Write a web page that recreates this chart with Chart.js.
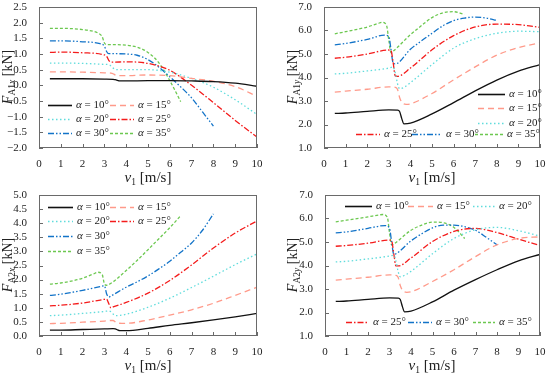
<!DOCTYPE html>
<html>
<head>
<meta charset="utf-8">
<script src="https://cdn.jsdelivr.net/npm/chart.js@4.4.0/dist/chart.umd.min.js"></script>
<style>
  body { margin: 0; background: #fff; }
  #wrap { position: relative; width: 550px; height: 378px; overflow: hidden; background: #fff; }
  #wrap canvas { position: absolute; }
  .ttl { position: absolute; font-family: "Liberation Serif", "DejaVu Serif", serif; font-size: 15px; color: #222;
         white-space: nowrap; transform: translate(-50%, -50%); line-height: 1; }
  .ttl.rot { font-size: 14px; transform: translate(-50%, -50%) rotate(-90deg); }
  .ttl sub { font-size: 9.5px; vertical-align: -3px; }
</style>
</head>
<body>
<div id="wrap">
  <canvas id="c1" width="275" height="188" style="left:0;top:0"></canvas>
  <canvas id="c2" width="275" height="188" style="left:275px;top:0"></canvas>
  <canvas id="c3" width="275" height="190" style="left:0;top:188px"></canvas>
  <canvas id="c4" width="275" height="190" style="left:275px;top:188px"></canvas>

  <div class="ttl rot" style="left:9px;top:77px"><i>F</i><sub>A1<i>x</i></sub> [kN]</div>
  <div class="ttl rot" style="left:294px;top:77px"><i>F</i><sub>A1<i>y</i></sub> [kN]</div>
  <div class="ttl rot" style="left:9px;top:265px"><i>F</i><sub>A2<i>x</i></sub> [kN]</div>
  <div class="ttl rot" style="left:294px;top:265px"><i>F</i><sub>A2<i>y</i></sub> [kN]</div>
  <div class="ttl" style="left:148px;top:179px"><i>v</i><sub>1</sub> [m/s]</div>
  <div class="ttl" style="left:432px;top:179px"><i>v</i><sub>1</sub> [m/s]</div>
  <div class="ttl" style="left:148px;top:367px"><i>v</i><sub>1</sub> [m/s]</div>
  <div class="ttl" style="left:432px;top:367px"><i>v</i><sub>1</sub> [m/s]</div>
</div>
<script>
// angle of each series
const alphas = [10, 15, 20, 25, 30, 35];

// v1 sample points per angle (the drop sits at a different speed for each angle)
const x10 = [0.5, 1, 2, 3, 3.4, 3.5, 3.6, 3.7, 4, 5, 6, 7, 8, 9, 10];
const x15 = [0.5, 1, 2, 3, 3.3, 3.4, 3.5, 3.6, 3.8, 4, 5, 6, 7, 8, 9, 10];
const x20 = [0.5, 1, 2, 3, 3.2, 3.3, 3.4, 3.5, 3.7, 4, 5, 6, 7, 8, 9, 10];
const x25 = [0.5, 1, 2, 3, 3.1, 3.2, 3.3, 3.4, 4, 5, 6, 7, 8, 9, 10];
const x30 = [0.5, 1, 2, 2.8, 3, 3.1, 3.2, 3.3, 4, 4.5, 5, 5.5, 6, 6.5, 7, 7.5, 8];
const x35 = [0.5, 1, 2, 2.5, 2.7, 2.9, 3, 3.1, 3.2, 4, 4.5, 5, 5.5, 6, 6.5];

// F_A1x [kN]
const fa1x10 = [0.21, 0.21, 0.21, 0.20, 0.19, 0.18, 0.16, 0.14, 0.14, 0.15, 0.15, 0.14, 0.12, 0.07, -0.03];
const fa1x15 = [0.43, 0.43, 0.42, 0.40, 0.39, 0.37, 0.33, 0.31, 0.31, 0.31, 0.33, 0.31, 0.22, 0.13, -0.04, -0.35];
const fa1x20 = [0.71, 0.71, 0.70, 0.67, 0.66, 0.62, 0.55, 0.51, 0.50, 0.50, 0.50, 0.42, 0.22, -0.06, -0.46, -0.93];
const fa1x25 = [1.05, 1.06, 1.04, 0.97, 0.93, 0.80, 0.74, 0.74, 0.75, 0.70, 0.48, 0.0, -0.55, -1.12, -1.65];
const fa1x30 = [1.42, 1.42, 1.39, 1.33, 1.25, 1.08, 1.01, 1.01, 1.00, 0.96, 0.82, 0.58, 0.27, -0.05, -0.40, -0.85, -1.30];
const fa1x35 = [1.82, 1.82, 1.78, 1.72, 1.67, 1.55, 1.35, 1.30, 1.30, 1.28, 1.22, 1.05, 0.72, 0.15, -0.52];

// F_A1y [kN]
const fa1y10 = [2.47, 2.49, 2.56, 2.62, 2.61, 2.55, 2.25, 2.03, 2.06, 2.45, 2.93, 3.43, 3.89, 4.27, 4.55];
const fa1y15 = [3.38, 3.42, 3.50, 3.60, 3.58, 3.50, 3.15, 2.95, 2.86, 2.88, 3.32, 3.90, 4.45, 4.95, 5.27, 5.47];
const fa1y20 = [4.15, 4.18, 4.28, 4.40, 4.45, 4.20, 3.75, 3.52, 3.58, 3.78, 4.55, 5.25, 5.65, 5.88, 5.97, 5.95];
const fa1y25 = [4.82, 4.86, 5.00, 5.17, 5.15, 4.65, 4.07, 4.05, 4.40, 5.18, 5.78, 6.15, 6.27, 6.25, 6.13];
const fa1y30 = [5.39, 5.45, 5.62, 5.80, 5.75, 5.20, 4.62, 4.58, 5.20, 5.55, 5.88, 6.20, 6.42, 6.53, 6.57, 6.53, 6.43];
const fa1y35 = [5.86, 5.95, 6.15, 6.30, 6.35, 6.20, 5.60, 5.06, 5.12, 5.82, 6.20, 6.55, 6.75, 6.80, 6.68];

// F_A2x [kN]
const fa2x10 = [0.21, 0.21, 0.23, 0.25, 0.26, 0.25, 0.22, 0.19, 0.19, 0.27, 0.38, 0.47, 0.57, 0.68, 0.80];
const fa2x15 = [0.44, 0.45, 0.49, 0.53, 0.55, 0.55, 0.50, 0.46, 0.45, 0.45, 0.57, 0.74, 0.93, 1.16, 1.44, 1.73];
const fa2x20 = [0.72, 0.74, 0.80, 0.87, 0.89, 0.86, 0.78, 0.72, 0.73, 0.77, 1.02, 1.34, 1.72, 2.12, 2.53, 2.91];
const fa2x25 = [1.07, 1.09, 1.17, 1.30, 1.31, 1.15, 1.00, 1.03, 1.19, 1.52, 1.97, 2.52, 3.12, 3.65, 4.08];
const fa2x30 = [1.44, 1.48, 1.62, 1.75, 1.78, 1.50, 1.38, 1.42, 1.73, 1.92, 2.13, 2.38, 2.65, 2.97, 3.30, 3.75, 4.33];
const fa2x35 = [1.84, 1.88, 2.05, 2.20, 2.26, 2.18, 1.85, 1.80, 1.82, 2.32, 2.68, 3.06, 3.45, 3.84, 4.27];

// F_A2y [kN]
const fa2y10 = [2.47, 2.49, 2.56, 2.62, 2.61, 2.55, 2.25, 2.03, 2.06, 2.45, 2.95, 3.40, 3.82, 4.20, 4.47];
const fa2y15 = [3.38, 3.42, 3.50, 3.60, 3.58, 3.50, 3.15, 2.95, 2.86, 2.88, 3.32, 3.82, 4.38, 4.88, 5.15, 5.22];
const fa2y20 = [4.15, 4.18, 4.28, 4.40, 4.43, 4.20, 3.75, 3.52, 3.58, 3.75, 4.50, 5.15, 5.52, 5.62, 5.48, 5.25];
const fa2y25 = [4.82, 4.85, 4.95, 5.08, 5.05, 4.50, 3.98, 3.98, 4.32, 5.02, 5.45, 5.58, 5.40, 5.12, 4.85];
const fa2y30 = [5.39, 5.43, 5.58, 5.70, 5.58, 5.00, 4.48, 4.50, 5.05, 5.35, 5.60, 5.72, 5.72, 5.65, 5.50, 5.20, 4.88];
const fa2y35 = [5.86, 5.93, 6.07, 6.15, 6.17, 6.05, 5.40, 4.88, 4.92, 5.50, 5.72, 5.85, 5.82, 5.62, 5.15];

const xs = [x10, x15, x20, x25, x30, x35];

// line looks, same order as alphas
const colors = ['#111111', '#ff9a8a', '#5fdcdc', '#f41c1c', '#1273c8', '#6cc850'];
const dashes = [[], [6, 4], [1.5, 2.5], [6, 2, 1.5, 2], [6, 2, 1.5, 2, 1.5, 2], [3, 2]];

const SERIF = '"Liberation Serif", "DejaVu Serif", serif';

function makeSets(series) {
  return series.map((ys, i) => ({
    label: 'α = ' + alphas[i] + '°',
    data: xs[i].map((x, k) => ({ x: x, y: ys[k] })),
    borderColor: colors[i],
    borderDash: dashes[i],
    borderWidth: 1.3,
    pointRadius: 0,
    fill: false,
    cubicInterpolationMode: 'monotone'
  }));
}

// box around the plot and inward tick marks on left and bottom
const framePlugin = {
  id: 'frame',
  afterDatasetsDraw(chart) {
    const { ctx, chartArea: a, scales } = chart;
    ctx.save();
    ctx.strokeStyle = '#6a6a6a';
    ctx.lineWidth = 1;
    ctx.setLineDash([]);
    ctx.strokeRect(Math.round(a.left) + 0.5, Math.round(a.top) + 0.5,
                   Math.round(a.right - a.left) - 1, Math.round(a.bottom - a.top) - 1);
    ctx.beginPath();
    scales.x.ticks.forEach(t => {
      const px = Math.round(scales.x.getPixelForValue(t.value)) + 0.5;
      ctx.moveTo(px, a.bottom); ctx.lineTo(px, a.bottom - 4);
    });
    scales.y.ticks.forEach(t => {
      const py = Math.round(scales.y.getPixelForValue(t.value)) + 0.5;
      ctx.moveTo(a.left, py); ctx.lineTo(a.left + 4, py);
    });
    ctx.stroke();
    ctx.restore();
  }
};

// legend entries placed freely inside the plot
const legendPlugin = {
  id: 'inLegend',
  afterDraw(chart, args, opts) {
    const ctx = chart.ctx;
    ctx.save();
    (opts.items || []).forEach(it => {
      const ds = chart.data.datasets[it.ds];
      ctx.beginPath();
      ctx.strokeStyle = ds.borderColor;
      ctx.lineWidth = 1.6;
      ctx.setLineDash(ds.borderDash);
      ctx.moveTo(it.x, it.y + 0.5);
      ctx.lineTo(it.x + it.w, it.y + 0.5);
      ctx.stroke();
      ctx.setLineDash([]);
      ctx.fillStyle = '#222';
      ctx.textBaseline = 'middle';
      let tx = it.x + it.w + 4;
      ctx.font = 'italic 11px ' + SERIF;
      ctx.fillText('α', tx, it.y);
      tx += ctx.measureText('α').width;
      ctx.font = '11px ' + SERIF;
      ctx.fillText(' = ' + alphas[it.ds] + '°', tx, it.y);
    });
    ctx.restore();
  }
};

function fmt(v) {
  return (v < 0 ? '−' : '') + Math.abs(v).toFixed(1);
}

function noPad(s) {
  s.paddingTop = 0; s.paddingBottom = 0; s.paddingLeft = 0; s.paddingRight = 0;
}

function makeChart(id, series, yMin, yMax, yStep, leftW, rightPad, bottomH, items) {
  return new Chart(document.getElementById(id), {
    type: 'line',
    data: { datasets: makeSets(series) },
    plugins: [framePlugin, legendPlugin],
    options: {
      responsive: false,
      animation: false,
      devicePixelRatio: 1,
      layout: { padding: { top: 7, right: rightPad, left: 0, bottom: 0 } },
      scales: {
        x: {
          type: 'linear', min: 0, max: 10,
          ticks: { stepSize: 1, autoSkip: false, maxRotation: 0, padding: 2, color: '#222', font: { family: SERIF, size: 11 } },
          grid: { display: false }, border: { display: false },
          afterFit(s) { s.height = bottomH; noPad(s); }
        },
        y: {
          min: yMin, max: yMax,
          ticks: { stepSize: yStep, autoSkip: false, padding: 4, color: '#222', font: { family: SERIF, size: 11 }, callback: fmt },
          grid: { display: false }, border: { display: false },
          afterFit(s) { s.width = leftW; noPad(s); }
        }
      },
      plugins: {
        legend: { display: false },
        tooltip: { enabled: false },
        inLegend: { items: items }
      }
    }
  });
}

makeChart('c1', [fa1x10, fa1x15, fa1x20, fa1x25, fa1x30, fa1x35], -2, 2.5, 0.5, 39, 18, 40, [
  { ds: 0, x: 48, w: 24, y: 105 }, { ds: 1, x: 110, w: 24, y: 105 },
  { ds: 2, x: 48, w: 24, y: 119 }, { ds: 3, x: 110, w: 24, y: 119 },
  { ds: 4, x: 48, w: 24, y: 133 }, { ds: 5, x: 110, w: 24, y: 133 }
]);

makeChart('c2', [fa1y10, fa1y15, fa1y20, fa1y25, fa1y30, fa1y35], 1, 7, 1, 49, 10, 40, [
  { ds: 0, x: 203, w: 27, y: 94 }, { ds: 1, x: 203, w: 27, y: 108 },
  { ds: 2, x: 203, w: 27, y: 123 }, { ds: 3, x: 81, w: 24, y: 134 },
  { ds: 4, x: 137, w: 30, y: 134 }, { ds: 5, x: 200, w: 28, y: 134 }
]);

makeChart('c3', [fa2x10, fa2x15, fa2x20, fa2x25, fa2x30, fa2x35], 0, 5, 0.5, 39, 18, 42, [
  { ds: 0, x: 48, w: 25, y: 19 }, { ds: 1, x: 110, w: 24, y: 19 },
  { ds: 2, x: 48, w: 25, y: 33 }, { ds: 3, x: 110, w: 24, y: 33 },
  { ds: 4, x: 48, w: 25, y: 48 }, { ds: 5, x: 48, w: 25, y: 63 }
]);

makeChart('c4', [fa2y10, fa2y15, fa2y20, fa2y25, fa2y30, fa2y35], 1, 7, 1, 50, 10, 42, [
  { ds: 0, x: 70, w: 27, y: 18 }, { ds: 1, x: 133, w: 25, y: 18 },
  { ds: 2, x: 198, w: 22, y: 18 }, { ds: 3, x: 71, w: 23, y: 134 },
  { ds: 4, x: 133, w: 24, y: 134 }, { ds: 5, x: 198, w: 22, y: 134 }
]);
</script>
</body>
</html>
